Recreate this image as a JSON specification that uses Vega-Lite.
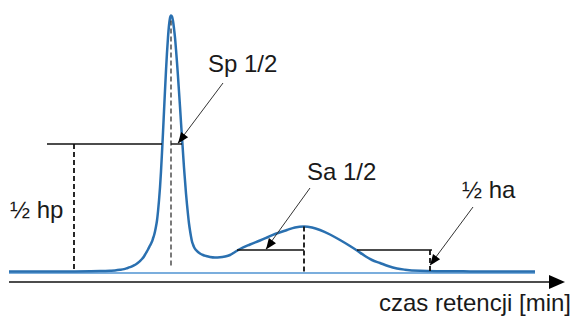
{
  "$schema": "https://vega.github.io/schema/vega-lite/v6.json",
  "width": 574,
  "height": 318,
  "padding": 0,
  "autosize": {"type": "fit", "contains": "padding"},
  "background": "white",
  "config": {"view": {"stroke": null}},
  "datasets": {
    "curve": [
      {"x": 9, "y": 0}, {"x": 40, "y": 0}, {"x": 75, "y": 0.05}, {"x": 90, "y": 0.2},
      {"x": 100, "y": 0.4}, {"x": 110, "y": 0.8}, {"x": 115, "y": 1.1}, {"x": 120, "y": 1.7},
      {"x": 124, "y": 2.4}, {"x": 127, "y": 3.3}, {"x": 130, "y": 4.3}, {"x": 132, "y": 5.2},
      {"x": 134, "y": 6.2}, {"x": 136, "y": 7.3}, {"x": 138, "y": 8.7}, {"x": 140, "y": 10.5},
      {"x": 142, "y": 12.5}, {"x": 144, "y": 15}, {"x": 146, "y": 18.5}, {"x": 148, "y": 22},
      {"x": 150, "y": 26}, {"x": 152, "y": 30}, {"x": 153, "y": 33}, {"x": 154, "y": 36},
      {"x": 155, "y": 40}, {"x": 156, "y": 45}, {"x": 157, "y": 51}, {"x": 158, "y": 60},
      {"x": 159, "y": 71}, {"x": 160, "y": 84}, {"x": 161, "y": 100}, {"x": 162, "y": 119},
      {"x": 163, "y": 139}, {"x": 164, "y": 160}, {"x": 165, "y": 181}, {"x": 166, "y": 201},
      {"x": 167, "y": 219}, {"x": 168, "y": 234}, {"x": 169, "y": 246}, {"x": 170, "y": 253.5},
      {"x": 171, "y": 256}, {"x": 172, "y": 255}, {"x": 173, "y": 250.5}, {"x": 174, "y": 243},
      {"x": 175, "y": 234}, {"x": 176, "y": 222}, {"x": 177, "y": 209}, {"x": 178, "y": 195},
      {"x": 179, "y": 180}, {"x": 180, "y": 165}, {"x": 181, "y": 149}, {"x": 182, "y": 134},
      {"x": 183, "y": 119}, {"x": 184, "y": 104}, {"x": 185, "y": 91}, {"x": 186, "y": 78},
      {"x": 187, "y": 67}, {"x": 188, "y": 57}, {"x": 189, "y": 48}, {"x": 190, "y": 41},
      {"x": 191, "y": 35}, {"x": 192, "y": 30}, {"x": 193, "y": 27}, {"x": 194, "y": 24.5},
      {"x": 196, "y": 21.5}, {"x": 198, "y": 19.5}, {"x": 200, "y": 18}, {"x": 203, "y": 16.5},
      {"x": 206, "y": 15.5}, {"x": 210, "y": 14.5}, {"x": 215, "y": 14}, {"x": 220, "y": 14.2},
      {"x": 225, "y": 15}, {"x": 230, "y": 16.5}, {"x": 235, "y": 19.5}, {"x": 240, "y": 22.5},
      {"x": 250, "y": 27}, {"x": 260, "y": 31}, {"x": 267, "y": 34}, {"x": 275, "y": 37.5},
      {"x": 287, "y": 41.5}, {"x": 295, "y": 44}, {"x": 304, "y": 45}, {"x": 312, "y": 44},
      {"x": 320, "y": 41.5}, {"x": 330, "y": 37}, {"x": 340, "y": 31.5}, {"x": 350, "y": 25.5},
      {"x": 357, "y": 21}, {"x": 365, "y": 15.5}, {"x": 372, "y": 11.5}, {"x": 380, "y": 8.5},
      {"x": 388, "y": 5.5}, {"x": 397, "y": 3}, {"x": 405, "y": 1.8}, {"x": 420, "y": 0.7},
      {"x": 440, "y": 0.3}, {"x": 470, "y": 0.1}, {"x": 500, "y": 0}, {"x": 535, "y": 0}
    ],
    "baseline": [{"x": 9, "y": -1.5}, {"x": 535, "y": -1.5}],
    "solid": [
      {"x": 47, "y": 127.5, "x2": 162, "y2": 127.5},
      {"x": 171, "y": 127.5, "x2": 182, "y2": 127.5},
      {"x": 237, "y": 21.5, "x2": 304, "y2": 21.5},
      {"x": 357, "y": 21.5, "x2": 432, "y2": 21.5}
    ],
    "axisline": [{"x": 9, "y": -10.5, "x2": 552, "y2": -10.5}],
    "pointers": [
      {"x": 223, "y": 188.5, "x2": 178, "y2": 128.5},
      {"x": 310, "y": 83.5, "x2": 266, "y2": 22.5},
      {"x": 473, "y": 64.5, "x2": 430, "y2": 6.5}
    ],
    "dashedThick": [
      {"x": 74, "y": 127.5, "x2": 74, "y2": 0},
      {"x": 304, "y": 45, "x2": 304, "y2": 0},
      {"x": 430, "y": 21.5, "x2": 430, "y2": 0}
    ],
    "dashedThin": [{"x": 171, "y": 251, "x2": 171, "y2": 3}],
    "heads": [
      {"x": 178, "y": 128, "dir": 126.9},
      {"x": 266, "y": 22, "dir": 125.8},
      {"x": 430, "y": 6, "dir": 126.6}
    ],
    "axisHead": [{"x": 565, "y": -10.5}],
    "labels": [
      {"x": 208, "y": 199.5, "label": "Sp 1/2"},
      {"x": 307, "y": 91.5, "label": "Sa 1/2"},
      {"x": 462, "y": 73.5, "label": "½ ha"},
      {"x": 10, "y": 53.5, "label": "½ hp"}
    ],
    "axisTitle": [{"x": 571, "y": -39.5, "label": "czas retencji [min]"}]
  },
  "layer": [
    {
      "data": {"name": "baseline"},
      "mark": {"type": "line", "color": "#4f93d2", "strokeWidth": 1.5},
      "encoding": {
        "x": {"field": "x", "type": "quantitative", "scale": {"domain": [0, 574], "nice": false, "zero": false}, "axis": null},
        "y": {"field": "y", "type": "quantitative", "scale": {"domain": [-46.5, 271.5], "nice": false, "zero": false}, "axis": null}
      }
    },
    {
      "data": {"name": "curve"},
      "mark": {"type": "line", "color": "#2a70b0", "strokeWidth": 2.5, "interpolate": "monotone"},
      "encoding": {
        "x": {"field": "x", "type": "quantitative"},
        "y": {"field": "y", "type": "quantitative"}
      }
    },
    {
      "data": {"name": "solid"},
      "mark": {"type": "rule", "color": "#111111", "strokeWidth": 1.4},
      "encoding": {
        "x": {"field": "x", "type": "quantitative"},
        "y": {"field": "y", "type": "quantitative"},
        "x2": {"field": "x2"},
        "y2": {"field": "y2"}
      }
    },
    {
      "data": {"name": "axisline"},
      "mark": {"type": "rule", "color": "#111111", "strokeWidth": 1.5},
      "encoding": {
        "x": {"field": "x", "type": "quantitative"},
        "y": {"field": "y", "type": "quantitative"},
        "x2": {"field": "x2"},
        "y2": {"field": "y2"}
      }
    },
    {
      "data": {"name": "pointers"},
      "mark": {"type": "rule", "color": "#333333", "strokeWidth": 1},
      "encoding": {
        "x": {"field": "x", "type": "quantitative"},
        "y": {"field": "y", "type": "quantitative"},
        "x2": {"field": "x2"},
        "y2": {"field": "y2"}
      }
    },
    {
      "data": {"name": "dashedThick"},
      "mark": {"type": "rule", "color": "#111111", "strokeWidth": 1.8, "strokeDash": [5, 3]},
      "encoding": {
        "x": {"field": "x", "type": "quantitative"},
        "y": {"field": "y", "type": "quantitative"},
        "x2": {"field": "x2"},
        "y2": {"field": "y2"}
      }
    },
    {
      "data": {"name": "dashedThin"},
      "mark": {"type": "rule", "color": "#222222", "strokeWidth": 1.2, "strokeDash": [5, 3]},
      "encoding": {
        "x": {"field": "x", "type": "quantitative"},
        "y": {"field": "y", "type": "quantitative"},
        "x2": {"field": "x2"},
        "y2": {"field": "y2"}
      }
    },
    {
      "data": {"name": "heads"},
      "mark": {"type": "point", "shape": "M0,0L-2,-0.8L-2,0.8Z", "filled": true, "color": "#000000", "opacity": 1, "size": 121},
      "encoding": {
        "x": {"field": "x", "type": "quantitative"},
        "y": {"field": "y", "type": "quantitative"},
        "angle": {"field": "dir", "type": "quantitative", "scale": null}
      }
    },
    {
      "data": {"name": "axisHead"},
      "mark": {"type": "point", "shape": "M0,0L-2,-0.875L-2,0.875Z", "filled": true, "color": "#000000", "opacity": 1, "size": 256},
      "encoding": {
        "x": {"field": "x", "type": "quantitative"},
        "y": {"field": "y", "type": "quantitative"}
      }
    },
    {
      "data": {"name": "labels"},
      "mark": {"type": "text", "font": "Liberation Sans", "fontSize": 24, "color": "#1a1a1a", "align": "left", "baseline": "alphabetic"},
      "encoding": {
        "x": {"field": "x", "type": "quantitative"},
        "y": {"field": "y", "type": "quantitative"},
        "text": {"field": "label"}
      }
    },
    {
      "data": {"name": "axisTitle"},
      "mark": {"type": "text", "font": "Liberation Sans", "fontSize": 24, "color": "#1a1a1a", "align": "right", "baseline": "alphabetic"},
      "encoding": {
        "x": {"field": "x", "type": "quantitative"},
        "y": {"field": "y", "type": "quantitative"},
        "text": {"field": "label"}
      }
    }
  ]
}
